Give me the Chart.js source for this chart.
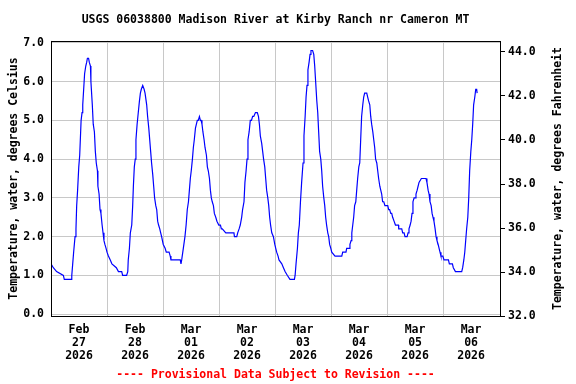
<!DOCTYPE html>
<html>
<head>
<meta charset="utf-8">
<script src="https://cdn.jsdelivr.net/npm/chart.js@4"></script>
<style>
  html, body { margin: 0; padding: 0; background: #fff; }
</style>
</head>
<body>
<canvas id="tempChart" width="576" height="384"></canvas>
<script>
// hours since Feb 27 2026 00:00, and water temperature (deg C)
const hours = [
  0.0, 1.0, 2.4, 5.3, 5.7, 8.6, 8.9, 9.3, 9.7, 10.3, 10.7, 11.0, 11.4, 11.9, 12.3, 12.7, 12.9, 13.3, 13.6, 14.0,
  14.4, 14.9, 15.3, 15.6, 16.1, 16.4, 16.9, 17.1, 17.7, 18.1, 18.6, 19.0, 19.4, 19.9, 20.1, 20.6, 21.0, 21.4, 21.9, 22.3,
  22.7, 23.1, 23.6, 24.0, 24.6, 25.4, 26.1, 28.0, 28.9, 30.3, 30.7, 32.4, 32.9, 33.1, 33.6, 34.0, 34.6, 35.0, 35.3, 35.7,
  36.1, 36.4, 36.9, 37.4, 37.9, 38.3, 38.7, 39.3, 39.9, 40.3, 40.7, 41.0, 41.4, 41.9, 42.3, 42.7, 43.1, 43.6, 44.0, 44.4,
  44.9, 45.3, 45.7, 46.1, 46.6, 47.0, 47.4, 48.1, 48.9, 49.4, 50.6, 51.1, 51.4, 55.4, 55.7, 56.0, 56.7, 57.4, 57.9, 58.4,
  58.9, 59.3, 59.7, 60.1, 60.6, 61.0, 61.4, 61.9, 62.3, 62.7, 63.1, 63.6, 64.0, 64.3, 64.7, 65.1, 65.6, 66.0, 66.6, 67.0,
  67.4, 67.9, 68.3, 68.7, 69.1, 69.6, 70.0, 70.6, 71.1, 71.9, 72.6, 73.0, 73.4, 74.9, 78.4, 78.6, 79.6, 80.0, 80.6, 81.1,
  81.7, 82.1, 82.7, 83.1, 83.6, 84.0, 84.4, 84.9, 85.4, 85.9, 86.4, 86.9, 87.6, 88.4, 88.9, 89.3, 89.7, 90.3, 90.7, 91.1,
  91.6, 92.0, 92.4, 92.9, 93.3, 93.7, 94.1, 94.6, 95.3, 95.9, 96.3, 96.7, 97.3, 97.7, 98.1, 98.9, 99.6, 100.3, 101.3, 102.4,
  104.3, 104.6, 105.0, 105.6, 106.0, 106.4, 106.9, 107.4, 108.0, 108.4, 108.9, 109.3, 109.7, 110.1, 110.6, 111.0, 111.4, 112.1, 112.6, 113.0,
  113.4, 113.9, 114.3, 114.7, 115.1, 115.6, 116.0, 116.4, 116.9, 117.3, 117.7, 118.1, 118.6, 119.0, 119.4, 119.9, 120.3, 121.7, 124.6, 125.0,
  126.4, 126.7, 127.9, 128.1, 128.6, 128.9, 129.3, 129.7, 130.1, 130.6, 131.0, 131.4, 131.9, 132.3, 132.7, 133.1, 133.6, 134.0, 134.4, 135.3,
  135.7, 136.1, 136.6, 137.0, 137.4, 137.9, 138.3, 138.7, 139.1, 139.6, 140.0, 140.4, 140.9, 141.3, 141.7, 142.1, 142.6, 143.1, 144.3, 144.7,
  145.1, 145.6, 146.0, 146.4, 147.0, 147.6, 148.9, 149.0, 150.3, 150.7, 151.3, 151.7, 152.6, 153.0, 153.4, 153.9, 154.3, 154.7, 155.1, 155.6,
  156.0, 156.4, 156.9, 157.3, 157.7, 158.1, 158.7, 160.7, 161.1, 161.6, 162.0, 162.4, 162.9, 163.3, 163.7, 164.1, 164.6, 165.0, 165.4, 165.9,
  166.3, 166.7, 167.1, 167.9, 168.4, 170.3, 170.7, 172.0, 172.4, 173.3, 176.0, 176.4, 176.9, 177.3, 177.7, 178.1, 178.6, 179.0, 179.4, 179.9,
  180.3, 180.7, 181.1, 181.6, 182.0, 182.4, 182.6
];
const tempC = [
  1.3, 1.2, 1.1, 1.0, 0.9, 0.9, 1.0, 1.3, 1.6, 2.0, 2.2, 2.8, 3.2, 3.8, 4.1, 4.7, 5.0, 5.2, 5.4, 5.8,
  6.2, 6.4, 6.5, 6.6, 6.6, 6.5, 6.4, 6.0, 5.4, 4.9, 4.7, 4.2, 3.9, 3.7, 3.3, 3.1, 2.7, 2.6, 2.3, 2.1,
  1.9, 1.8, 1.7, 1.6, 1.5, 1.4, 1.3, 1.2, 1.1, 1.1, 1.0, 1.0, 1.1, 1.4, 1.7, 2.1, 2.3, 2.8, 3.3, 3.8,
  4.0, 4.5, 4.9, 5.2, 5.5, 5.7, 5.8, 5.9, 5.8, 5.7, 5.7, 5.4, 5.1, 4.8, 4.5, 4.2, 3.9, 3.6, 3.3, 3.0,
  2.8, 2.7, 2.4, 2.3, 2.2, 2.1, 2.0, 1.8, 1.7, 1.6, 1.6, 1.5, 1.4, 1.4, 1.3, 1.4, 1.7, 2.0, 2.3, 2.7,
  2.9, 3.2, 3.5, 3.7, 4.0, 4.3, 4.5, 4.8, 4.9, 5.0, 5.0, 5.1, 5.0, 5.0, 4.9, 4.7, 4.5, 4.3, 4.1, 3.8,
  3.7, 3.5, 3.2, 3.0, 2.9, 2.8, 2.6, 2.5, 2.4, 2.3, 2.3, 2.2, 2.2, 2.1, 2.1, 2.0, 2.0, 2.1, 2.2, 2.3,
  2.5, 2.7, 2.9, 3.4, 3.7, 4.0, 4.5, 4.7, 5.0, 5.0, 5.1, 5.1, 5.2, 5.2, 5.1, 4.9, 4.6, 4.4, 4.2, 4.0,
  3.8, 3.5, 3.2, 3.0, 2.8, 2.5, 2.3, 2.1, 2.0, 1.8, 1.7, 1.6, 1.5, 1.4, 1.4, 1.3, 1.2, 1.1, 1.0, 0.9,
  0.9, 1.0, 1.3, 1.7, 2.1, 2.3, 2.9, 3.4, 3.9, 4.6, 5.1, 5.6, 5.9, 6.3, 6.5, 6.7, 6.8, 6.8, 6.7, 6.4,
  6.0, 5.5, 5.2, 4.7, 4.2, 4.0, 3.7, 3.3, 3.0, 2.8, 2.5, 2.3, 2.1, 2.0, 1.8, 1.7, 1.6, 1.5, 1.5, 1.6,
  1.6, 1.7, 1.7, 1.8, 1.9, 2.1, 2.3, 2.5, 2.8, 2.9, 3.2, 3.5, 3.8, 3.9, 4.5, 5.1, 5.4, 5.6, 5.7, 5.7,
  5.6, 5.5, 5.4, 5.1, 4.9, 4.7, 4.5, 4.3, 4.0, 3.9, 3.7, 3.5, 3.3, 3.2, 3.1, 2.9, 2.9, 2.8, 2.8, 2.7,
  2.7, 2.6, 2.6, 2.5, 2.4, 2.3, 2.3, 2.2, 2.2, 2.1, 2.1, 2.0, 2.0, 2.1, 2.2, 2.3, 2.4, 2.6, 2.9, 3.0,
  3.0, 3.1, 3.2, 3.3, 3.4, 3.4, 3.5, 3.5, 3.4, 3.2, 3.1, 2.9, 2.8, 2.6, 2.5, 2.4, 2.2, 2.0, 1.9, 1.8,
  1.7, 1.6, 1.5, 1.5, 1.4, 1.4, 1.3, 1.3, 1.2, 1.1, 1.1, 1.2, 1.4, 1.6, 1.9, 2.2, 2.5, 3.0, 3.7, 4.2,
  4.5, 4.9, 5.4, 5.6, 5.8, 5.8, 5.7
];
const dayMonth = ["Feb", "Feb", "Mar", "Mar", "Mar", "Mar", "Mar", "Mar"];
const dayNum = ["27", "28", "01", "02", "03", "04", "05", "06"];
const dayYear = "2026";
const celsiusTicks = [0, 1, 2, 3, 4, 5, 6, 7];
const fahrenheitTicks = [32, 34, 36, 38, 40, 42, 44];

const mono = "'DejaVu Sans Mono', monospace";
const font = { family: mono, size: 11.5, weight: "bold" };

// black box round the plot and the right-hand axis title (reads bottom to top)
const frame = {
  id: "frame",
  afterDraw(chart) {
    const { ctx, chartArea: a } = chart;
    ctx.save();
    ctx.strokeStyle = "#000";
    ctx.lineWidth = 1;
    ctx.strokeRect(Math.round(a.left) + 0.5, Math.round(a.top) + 0.5, Math.round(a.right - a.left), Math.round(a.bottom - a.top));
    ctx.translate(558, (a.top + a.bottom) / 2);
    ctx.rotate(-Math.PI / 2);
    ctx.font = `bold 11.5px ${mono}`;
    ctx.fillStyle = "#000";
    ctx.textAlign = "center";
    ctx.textBaseline = "middle";
    ctx.fillText("Temperature, water, degrees Fahrenheit", 0, 0);
    ctx.restore();
  }
};

const dayTicks = [];
dayNum.forEach((d, i) => { dayTicks.push({ value: i * 24 }); dayTicks.push({ value: i * 24 + 12 }); });

new Chart(document.getElementById("tempChart"), {
  type: "line",
  data: {
    datasets: [{
      data: hours.map((h, i) => ({ x: h, y: tempC[i] })),
      borderColor: "#0000ff",
      borderWidth: 1.2,
      pointRadius: 0,
      fill: false,
      tension: 0,
      yAxisID: "y"
    }]
  },
  options: {
    responsive: false,
    animation: false,
    devicePixelRatio: 1,
    layout: { padding: 0 },
    plugins: {
      legend: { display: false },
      tooltip: { enabled: false },
      title: {
        display: true,
        fullSize: false,
        text: "USGS 06038800 Madison River at Kirby Ranch nr Cameron MT",
        color: "#000",
        font: font,
        padding: { top: 13, bottom: 14 }
      },
      subtitle: {
        display: true,
        fullSize: false,
        position: "bottom",
        text: "---- Provisional Data Subject to Revision ----",
        color: "#ff0000",
        font: font,
        padding: { top: 0, bottom: 2 }
      }
    },
    scales: {
      x: {
        type: "linear",
        min: 0,
        max: 192.4,
        afterBuildTicks: scale => { scale.ticks = dayTicks.map(t => ({ value: t.value })); },
        afterFit: scale => { scale.height = 52; },
        border: { display: false },
        grid: {
          drawTicks: false,
          lineWidth: 1,
          color: c => (c.tick && c.tick.value % 24 === 0 ? "#c8c8c8" : "rgba(0,0,0,0)")
        },
        ticks: {
          autoSkip: false,
          maxRotation: 0,
          padding: 7,
          color: "#000",
          font: { family: mono, size: 11.5, weight: "bold", lineHeight: 1.13 },
          callback: value => {
            if (value % 24 !== 12) return "";
            const i = (value - 12) / 24;
            return [dayMonth[i], dayNum[i], dayYear];
          }
        }
      },
      y: {
        position: "left",
        min: -0.05,
        max: 7.05,
        afterBuildTicks: scale => { scale.ticks = celsiusTicks.map(v => ({ value: v })); },
        afterFit: scale => { scale.width = 51; },
        border: { display: false },
        grid: { drawTicks: false, color: "#c8c8c8", lineWidth: 1 },
        ticks: { padding: 7, color: "#000", font: font, callback: v => v.toFixed(1) },
        title: {
          display: true,
          text: "Temperature, water, degrees Celsius",
          color: "#000",
          font: font,
          padding: { top: 7, bottom: 0 }
        }
      },
      y2: {
        position: "right",
        min: 32,
        max: 44.5,
        afterBuildTicks: scale => { scale.ticks = fahrenheitTicks.map(v => ({ value: v })); },
        afterFit: scale => { scale.width = 76; },
        border: { display: false },
        grid: { drawOnChartArea: false, drawTicks: true, tickLength: 5, color: "#000", lineWidth: 1 },
        ticks: { padding: 3, color: "#000", font: font, callback: v => v.toFixed(1) }
      }
    }
  },
  plugins: [frame]
});
</script>
</body>
</html>
